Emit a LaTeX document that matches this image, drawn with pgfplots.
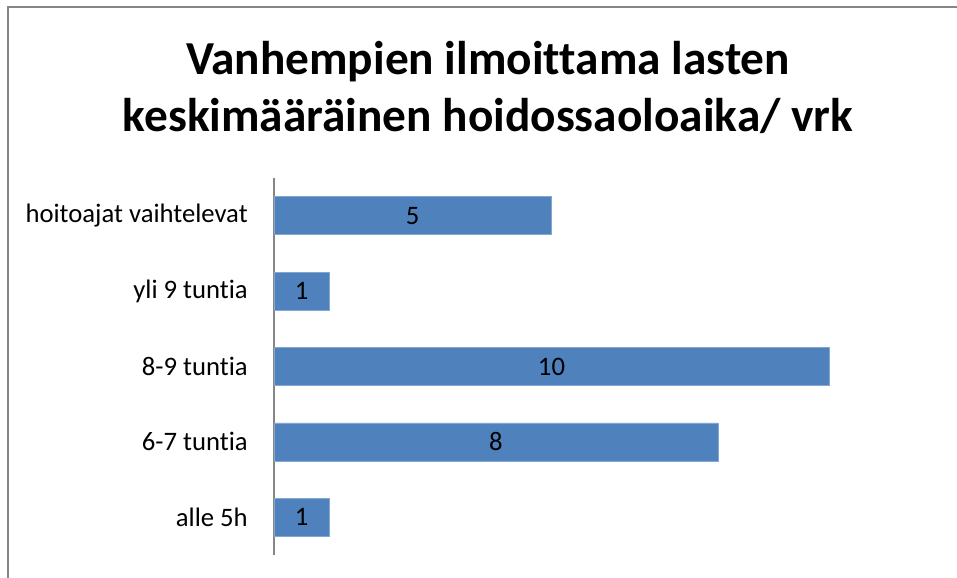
\documentclass[border=0pt]{standalone}
\usepackage{pgfplots}
\pgfplotsset{compat=1.18}
\usepackage{pgfplotstable}
\usepackage{fontspec}
\setmainfont{Carlito}[Ligatures=NoCommon]

\definecolor{barblue}{HTML}{4F81BD}
\definecolor{framegray}{HTML}{868686}

% y = category position (0 = bottom), v = parents' answers
\pgfplotstableread{
y v
0 1
1 8
2 10
3 1
4 5
}\hoitoaika

\begin{document}
\begin{tikzpicture}
\useasboundingbox (0,0) rectangle (717.75bp,433.5bp);
\draw[framegray, line width=1.2bp] (6bp,0) -- (6bp,428.25bp) -- (717.75bp,428.25bp);
\node[anchor=base, font=\fontsize{35.5bp}{42bp}\selectfont\bfseries] at (366bp,377.25bp) {Vanhempien ilmoittama lasten};
\node[anchor=base, font=\fontsize{35.5bp}{42bp}\selectfont\bfseries] at (366bp,334.5bp) {keskimääräinen hoidossaoloaika/ vrk};
\begin{axis}[
  at={(205.5bp,17.25bp)}, anchor=south west,
  scale only axis,
  width=416.25bp, height=282.75bp,
  xmin=0, xmax=10,
  ymin=-0.5, ymax=4.5,
  hide x axis,
  axis y line*=left,
  y axis line style={framegray, line width=1bp, -},
  ytick={0,1,2,3,4},
  yticklabels={alle 5h, 6-7 tuntia, 8-9 tuntia, yli 9 tuntia, hoitoajat vaihtelevat},
  major tick length=0pt,
  yticklabel style={anchor=east, inner sep=0pt, xshift=-19.5bp, font=\fontsize{20bp}{24bp}\selectfont},
  clip=false,
]
\addplot[xbar, bar width=28.5bp, fill=barblue, draw=barblue!70!white, line width=0.5bp]
  table[x=v, y=y] {\hoitoaika};
\addplot[draw=none, mark=none, nodes near coords, point meta=explicit symbolic,
  every node near coord/.style={anchor=center, font=\fontsize{20bp}{24bp}\selectfont, text=black}]
  table[x expr=\thisrow{v}/2, y=y, meta=v] {\hoitoaika};
\end{axis}
\end{tikzpicture}
\end{document}
